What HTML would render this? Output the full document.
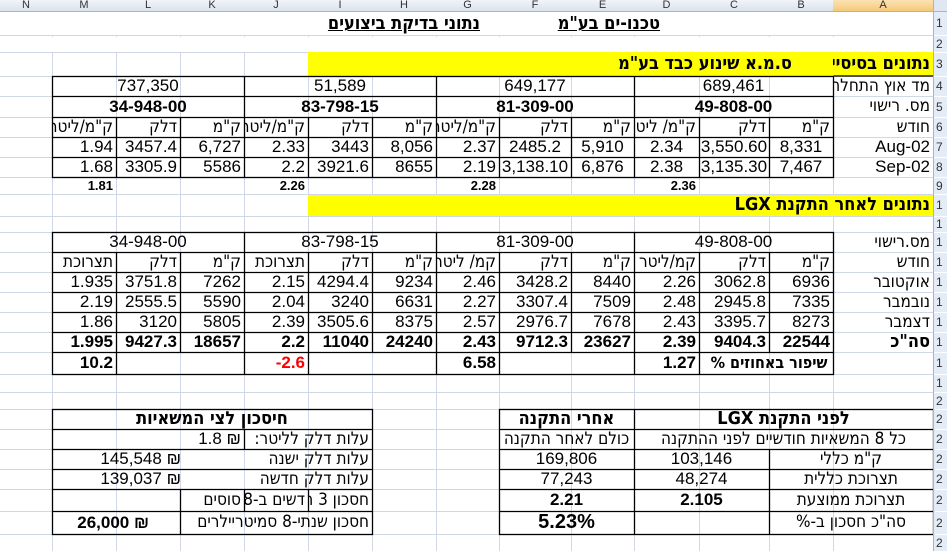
<!DOCTYPE html>
<html><head><meta charset="utf-8">
<style>
body{margin:0;width:947px;height:551px;overflow:hidden;background:#fff;position:relative;font-family:"Liberation Sans","DejaVu Sans Condensed","DejaVu Sans",sans-serif;color:#000}
.c{position:absolute;white-space:nowrap;overflow:hidden;font-size:17px;box-sizing:border-box}
.c[style*="rtl"]{font-size:17px;font-family:"DejaVu Sans Condensed","DejaVu Sans",sans-serif}
.c.b[style*="rtl"]{font-size:18px}
.r{text-align:right;padding-right:3px}
.m{text-align:center}
.b{font-weight:bold}
.s{font-size:13px;font-weight:bold}
.h{position:absolute;top:0;height:11px;font-size:11px;line-height:11px;text-align:center;color:#333;background:linear-gradient(#f1f4f9,#dbe3ee)}
.rn{position:absolute;left:934px;width:13px;font-size:12px;color:#333;background:#e4ecf7;overflow:hidden;padding-left:2px;box-sizing:border-box}
</style></head><body>
<svg width="947" height="551" style="position:absolute;left:0;top:0">
<g stroke="#d0d7e5" stroke-width="1">
<line x1="52.5" y1="11" x2="52.5" y2="551"/><line x1="116.5" y1="11" x2="116.5" y2="551"/><line x1="180.5" y1="11" x2="180.5" y2="551"/><line x1="244.5" y1="11" x2="244.5" y2="551"/><line x1="308.5" y1="11" x2="308.5" y2="551"/><line x1="372.5" y1="11" x2="372.5" y2="551"/><line x1="436.5" y1="11" x2="436.5" y2="551"/><line x1="499.5" y1="11" x2="499.5" y2="551"/><line x1="571.5" y1="11" x2="571.5" y2="551"/><line x1="634.5" y1="11" x2="634.5" y2="551"/><line x1="699.5" y1="11" x2="699.5" y2="551"/><line x1="769.5" y1="11" x2="769.5" y2="551"/><line x1="833.5" y1="11" x2="833.5" y2="551"/>
<line x1="0" y1="35.5" x2="933" y2="35.5"/><line x1="0" y1="52.5" x2="933" y2="52.5"/><line x1="0" y1="76.5" x2="933" y2="76.5"/><line x1="0" y1="96.5" x2="933" y2="96.5"/><line x1="0" y1="117.5" x2="933" y2="117.5"/><line x1="0" y1="137.5" x2="933" y2="137.5"/><line x1="0" y1="157.5" x2="933" y2="157.5"/><line x1="0" y1="177.5" x2="933" y2="177.5"/><line x1="0" y1="194.5" x2="933" y2="194.5"/><line x1="0" y1="216.5" x2="933" y2="216.5"/><line x1="0" y1="232.5" x2="933" y2="232.5"/><line x1="0" y1="252.5" x2="933" y2="252.5"/><line x1="0" y1="272.5" x2="933" y2="272.5"/><line x1="0" y1="292.5" x2="933" y2="292.5"/><line x1="0" y1="312.5" x2="933" y2="312.5"/><line x1="0" y1="332.5" x2="933" y2="332.5"/><line x1="0" y1="352.5" x2="933" y2="352.5"/><line x1="0" y1="374.5" x2="933" y2="374.5"/><line x1="0" y1="392.5" x2="933" y2="392.5"/><line x1="0" y1="409.5" x2="933" y2="409.5"/><line x1="0" y1="429.5" x2="933" y2="429.5"/><line x1="0" y1="449.5" x2="933" y2="449.5"/><line x1="0" y1="469.5" x2="933" y2="469.5"/><line x1="0" y1="489.5" x2="933" y2="489.5"/><line x1="0" y1="511.5" x2="933" y2="511.5"/><line x1="0" y1="534.5" x2="933" y2="534.5"/>
</g>
<rect x="308" y="52" width="625" height="24" fill="#ffff00"/>
<rect x="308" y="195" width="625" height="21" fill="#ffff00"/>
<rect x="0" y="37" width="933" height="15" fill="#fff"/>
<rect x="0" y="12" width="933" height="23" fill="#fff"/>
<g stroke="#000" stroke-width="1.3" fill="none">
<rect x="52.5" y="76.5" width="781" height="101"/>
<line x1="52" y1="96.5" x2="833" y2="96.5"/><line x1="52" y1="117.5" x2="833" y2="117.5"/><line x1="52" y1="137.5" x2="833" y2="137.5"/><line x1="52" y1="157.5" x2="833" y2="157.5"/>
<line x1="833.5" y1="76" x2="933" y2="76"/>
<line x1="244.5" y1="76" x2="244.5" y2="177"/><line x1="436.5" y1="76" x2="436.5" y2="177"/><line x1="634.5" y1="76" x2="634.5" y2="177"/>
<line x1="116.5" y1="117" x2="116.5" y2="177"/><line x1="180.5" y1="117" x2="180.5" y2="177"/><line x1="308.5" y1="117" x2="308.5" y2="177"/><line x1="372.5" y1="117" x2="372.5" y2="177"/><line x1="499.5" y1="117" x2="499.5" y2="177"/><line x1="571.5" y1="117" x2="571.5" y2="177"/><line x1="699.5" y1="117" x2="699.5" y2="177"/><line x1="769.5" y1="117" x2="769.5" y2="177"/>
<rect x="52.5" y="232.5" width="781" height="142"/>
<line x1="52" y1="252.5" x2="833" y2="252.5"/><line x1="52" y1="272.5" x2="833" y2="272.5"/><line x1="52" y1="292.5" x2="833" y2="292.5"/><line x1="52" y1="312.5" x2="833" y2="312.5"/><line x1="52" y1="332.5" x2="833" y2="332.5"/><line x1="52" y1="352.5" x2="833" y2="352.5"/>
<line x1="244.5" y1="232" x2="244.5" y2="374"/><line x1="436.5" y1="232" x2="436.5" y2="374"/><line x1="634.5" y1="232" x2="634.5" y2="374"/>
<line x1="116.5" y1="252" x2="116.5" y2="374"/><line x1="180.5" y1="252" x2="180.5" y2="352"/><line x1="308.5" y1="252" x2="308.5" y2="374"/><line x1="372.5" y1="252" x2="372.5" y2="352"/><line x1="499.5" y1="252" x2="499.5" y2="374"/><line x1="571.5" y1="252" x2="571.5" y2="352"/><line x1="699.5" y1="252" x2="699.5" y2="374"/><line x1="769.5" y1="252" x2="769.5" y2="352"/>
<rect x="52.5" y="409.5" width="320" height="125"/>
<line x1="52" y1="429.5" x2="372" y2="429.5"/><line x1="52" y1="449.5" x2="372" y2="449.5"/><line x1="52" y1="469.5" x2="372" y2="469.5"/><line x1="52" y1="489.5" x2="372" y2="489.5"/><line x1="52" y1="511.5" x2="372" y2="511.5"/>
<line x1="244.5" y1="429" x2="244.5" y2="449"/>
<line x1="180.5" y1="489" x2="180.5" y2="534"/><line x1="244.5" y1="489" x2="244.5" y2="511"/><line x1="308.5" y1="489" x2="308.5" y2="511"/>
<rect x="499.5" y="409.5" width="434" height="125"/>
<line x1="499" y1="429.5" x2="933" y2="429.5"/><line x1="499" y1="449.5" x2="933" y2="449.5"/><line x1="499" y1="469.5" x2="933" y2="469.5"/><line x1="499" y1="489.5" x2="933" y2="489.5"/><line x1="499" y1="511.5" x2="933" y2="511.5"/>
<line x1="634.5" y1="409" x2="634.5" y2="534"/><line x1="769.5" y1="449" x2="769.5" y2="534"/>
</g>
<line x1="0" y1="11.5" x2="947" y2="11.5" stroke="#9eb6ce"/>
<line x1="933.5" y1="0" x2="933.5" y2="551" stroke="#9eb6ce"/>
</svg>

<div class="h" style="left:0;width:52px">N</div>
<div class="h" style="left:52px;width:64px">M</div>
<div class="h" style="left:116px;width:64px">L</div>
<div class="h" style="left:180px;width:64px">K</div>
<div class="h" style="left:244px;width:64px">J</div>
<div class="h" style="left:308px;width:64px">I</div>
<div class="h" style="left:372px;width:64px">H</div>
<div class="h" style="left:436px;width:63px">G</div>
<div class="h" style="left:499px;width:72px">F</div>
<div class="h" style="left:571px;width:63px">E</div>
<div class="h" style="left:634px;width:65px">D</div>
<div class="h" style="left:699px;width:70px">C</div>
<div class="h" style="left:769px;width:64px">B</div>
<div class="h" style="left:833px;width:100px;background:linear-gradient(#fbe2b4,#f6c97a)">A</div>
<div class="h" style="left:934px;width:13px;background:#dfe7f2"></div>

<div class="rn" style="top:12px;height:23px;line-height:23px">1</div>
<div class="rn" style="top:36px;height:16px;line-height:16px">2</div>
<div class="rn" style="top:53px;height:23px;line-height:23px">3</div>
<div class="rn" style="top:77px;height:19px;line-height:19px">4</div>
<div class="rn" style="top:97px;height:20px;line-height:20px">5</div>
<div class="rn" style="top:118px;height:19px;line-height:19px">6</div>
<div class="rn" style="top:138px;height:19px;line-height:19px">7</div>
<div class="rn" style="top:158px;height:19px;line-height:19px">8</div>
<div class="rn" style="top:178px;height:16px;line-height:16px">9</div>
<div class="rn" style="top:195px;height:21px;line-height:21px">1</div>
<div class="rn" style="top:217px;height:15px;line-height:15px">1</div>
<div class="rn" style="top:233px;height:19px;line-height:19px">1</div>
<div class="rn" style="top:253px;height:19px;line-height:19px">1</div>
<div class="rn" style="top:273px;height:19px;line-height:19px">1</div>
<div class="rn" style="top:293px;height:19px;line-height:19px">1</div>
<div class="rn" style="top:313px;height:19px;line-height:19px">1</div>
<div class="rn" style="top:333px;height:19px;line-height:19px">1</div>
<div class="rn" style="top:353px;height:21px;line-height:21px">1</div>
<div class="rn" style="top:375px;height:17px;line-height:17px">1</div>
<div class="rn" style="top:393px;height:16px;line-height:16px">2</div>
<div class="rn" style="top:410px;height:19px;line-height:19px">2</div>
<div class="rn" style="top:430px;height:19px;line-height:19px">2</div>
<div class="rn" style="top:450px;height:19px;line-height:19px">2</div>
<div class="rn" style="top:470px;height:19px;line-height:19px">2</div>
<div class="rn" style="top:490px;height:21px;line-height:21px">2</div>
<div class="rn" style="top:512px;height:22px;line-height:22px">2</div>
<div class="rn" style="top:535px;height:16px;line-height:16px">2</div>

<div class="c b" style="left:520px;width:140px;top:12px;height:24px;line-height:24px;text-align:right;direction:rtl;text-decoration:underline">טכנו-ים בע"מ</div>
<div class="c b" style="left:310px;width:170px;top:12px;height:24px;line-height:24px;text-align:right;direction:rtl;text-decoration:underline">נתוני בדיקת ביצועים</div>

<div class="c b r" style="left:833px;width:100px;top:52px;height:24px;line-height:24px;direction:rtl">נתונים בסיסיים:</div>
<div class="c b" style="left:600px;width:210px;top:52px;height:24px;line-height:24px;direction:rtl;text-align:center">ס.מ.א שינוע כבד בע"מ</div>

<div class="c r" style="left:833px;width:100px;top:76px;height:20px;line-height:20px;direction:rtl">מד אוץ התחלתי</div>
<div class="c m" style="left:52px;width:192px;top:76px;height:20px;line-height:20px">737,350</div>
<div class="c m" style="left:244px;width:192px;top:76px;height:20px;line-height:20px">51,589</div>
<div class="c m" style="left:436px;width:198px;top:76px;height:20px;line-height:20px">649,177</div>
<div class="c m" style="left:634px;width:199px;top:76px;height:20px;line-height:20px">689,461</div>
<div class="c r" style="left:833px;width:100px;top:96px;height:21px;line-height:21px;direction:rtl">מס. רישוי</div>
<div class="c m b" style="left:52px;width:192px;top:96px;height:21px;line-height:21px">34-948-00</div>
<div class="c m b" style="left:244px;width:192px;top:96px;height:21px;line-height:21px">83-798-15</div>
<div class="c m b" style="left:436px;width:198px;top:96px;height:21px;line-height:21px">81-309-00</div>
<div class="c m b" style="left:634px;width:199px;top:96px;height:21px;line-height:21px">49-808-00</div>

<div class="c r" style="left:833px;width:100px;top:117px;height:20px;line-height:20px;direction:rtl">חודש</div>
<div class="c r" style="left:52px;width:64px;top:117px;height:20px;line-height:20px;direction:rtl">ק"מ/ליטר</div>
<div class="c r" style="left:116px;width:64px;top:117px;height:20px;line-height:20px;direction:rtl">דלק</div>
<div class="c r" style="left:180px;width:64px;top:117px;height:20px;line-height:20px;direction:rtl">ק"מ</div>
<div class="c r" style="left:244px;width:64px;top:117px;height:20px;line-height:20px;direction:rtl">ק"מ/ליטר</div>
<div class="c r" style="left:308px;width:64px;top:117px;height:20px;line-height:20px;direction:rtl">דלק</div>
<div class="c r" style="left:372px;width:64px;top:117px;height:20px;line-height:20px;direction:rtl">ק"מ</div>
<div class="c r" style="left:436px;width:63px;top:117px;height:20px;line-height:20px;direction:rtl">ק"מ/ליטר</div>
<div class="c r" style="left:499px;width:72px;top:117px;height:20px;line-height:20px;direction:rtl">דלק</div>
<div class="c r" style="left:571px;width:63px;top:117px;height:20px;line-height:20px;direction:rtl">ק"מ</div>
<div class="c r" style="left:634px;width:65px;top:117px;height:20px;line-height:20px;direction:rtl">ק"מ/ ליטר</div>
<div class="c r" style="left:699px;width:70px;top:117px;height:20px;line-height:20px;direction:rtl">דלק</div>
<div class="c r" style="left:769px;width:64px;top:117px;height:20px;line-height:20px;direction:rtl">ק"מ</div>

<div class="c r" style="left:833px;width:100px;top:137px;height:20px;line-height:20px">Aug-02</div>
<div class="c r" style="left:52px;width:64px;top:137px;height:20px;line-height:20px">1.94</div>
<div class="c r" style="left:116px;width:64px;top:137px;height:20px;line-height:20px">3457.4</div>
<div class="c r" style="left:180px;width:64px;top:137px;height:20px;line-height:20px">6,727</div>
<div class="c r" style="left:244px;width:64px;top:137px;height:20px;line-height:20px">2.33</div>
<div class="c r" style="left:308px;width:64px;top:137px;height:20px;line-height:20px">3443</div>
<div class="c r" style="left:372px;width:64px;top:137px;height:20px;line-height:20px">8,056</div>
<div class="c r" style="left:436px;width:63px;top:137px;height:20px;line-height:20px">2.37</div>
<div class="c m" style="left:499px;width:72px;top:137px;height:20px;line-height:20px">2485.2</div>
<div class="c m" style="left:571px;width:63px;top:137px;height:20px;line-height:20px">5,910</div>
<div class="c m" style="left:634px;width:65px;top:137px;height:20px;line-height:20px">2.34</div>
<div class="c m" style="left:699px;width:70px;top:137px;height:20px;line-height:20px">3,550.60</div>
<div class="c m" style="left:769px;width:64px;top:137px;height:20px;line-height:20px">8,331</div>

<div class="c r" style="left:833px;width:100px;top:157px;height:20px;line-height:20px">Sep-02</div>
<div class="c r" style="left:52px;width:64px;top:157px;height:20px;line-height:20px">1.68</div>
<div class="c r" style="left:116px;width:64px;top:157px;height:20px;line-height:20px">3305.9</div>
<div class="c r" style="left:180px;width:64px;top:157px;height:20px;line-height:20px">5586</div>
<div class="c r" style="left:244px;width:64px;top:157px;height:20px;line-height:20px">2.2</div>
<div class="c r" style="left:308px;width:64px;top:157px;height:20px;line-height:20px">3921.6</div>
<div class="c r" style="left:372px;width:64px;top:157px;height:20px;line-height:20px">8655</div>
<div class="c r" style="left:436px;width:63px;top:157px;height:20px;line-height:20px">2.19</div>
<div class="c m" style="left:499px;width:72px;top:157px;height:20px;line-height:20px">3,138.10</div>
<div class="c m" style="left:571px;width:63px;top:157px;height:20px;line-height:20px">6,876</div>
<div class="c m" style="left:634px;width:65px;top:157px;height:20px;line-height:20px">2.38</div>
<div class="c m" style="left:699px;width:70px;top:157px;height:20px;line-height:20px">3,135.30</div>
<div class="c m" style="left:769px;width:64px;top:157px;height:20px;line-height:20px">7,467</div>

<div class="c r s" style="left:52px;width:64px;top:177px;height:17px;line-height:17px">1.81</div>
<div class="c r s" style="left:244px;width:64px;top:177px;height:17px;line-height:17px">2.26</div>
<div class="c r s" style="left:436px;width:63px;top:177px;height:17px;line-height:17px">2.28</div>
<div class="c r s" style="left:634px;width:65px;top:177px;height:17px;line-height:17px">2.36</div>

<div class="c b r" style="left:600px;width:333px;top:194px;height:22px;line-height:22px;direction:rtl">נתונים לאחר התקנת LGX</div>

<div class="c r" style="left:833px;width:100px;top:232px;height:20px;line-height:20px;direction:rtl">מס.רישוי</div>
<div class="c m" style="left:52px;width:192px;top:232px;height:20px;line-height:20px">34-948-00</div>
<div class="c m" style="left:244px;width:192px;top:232px;height:20px;line-height:20px">83-798-15</div>
<div class="c m" style="left:436px;width:198px;top:232px;height:20px;line-height:20px">81-309-00</div>
<div class="c m" style="left:634px;width:199px;top:232px;height:20px;line-height:20px">49-808-00</div>

<div class="c r" style="left:833px;width:100px;top:252px;height:20px;line-height:20px;direction:rtl">חודש</div>
<div class="c r" style="left:52px;width:64px;top:252px;height:20px;line-height:20px;direction:rtl">תצרוכת</div>
<div class="c r" style="left:116px;width:64px;top:252px;height:20px;line-height:20px;direction:rtl">דלק</div>
<div class="c r" style="left:180px;width:64px;top:252px;height:20px;line-height:20px;direction:rtl">ק"מ</div>
<div class="c r" style="left:244px;width:64px;top:252px;height:20px;line-height:20px;direction:rtl">תצרוכת</div>
<div class="c r" style="left:308px;width:64px;top:252px;height:20px;line-height:20px;direction:rtl">דלק</div>
<div class="c r" style="left:372px;width:64px;top:252px;height:20px;line-height:20px;direction:rtl">ק"מ</div>
<div class="c r" style="left:436px;width:63px;top:252px;height:20px;line-height:20px;direction:rtl">קמ/ ליטר</div>
<div class="c r" style="left:499px;width:72px;top:252px;height:20px;line-height:20px;direction:rtl">דלק</div>
<div class="c r" style="left:571px;width:63px;top:252px;height:20px;line-height:20px;direction:rtl">ק"מ</div>
<div class="c r" style="left:634px;width:65px;top:252px;height:20px;line-height:20px;direction:rtl">קמ/ליטר</div>
<div class="c r" style="left:699px;width:70px;top:252px;height:20px;line-height:20px;direction:rtl">דלק</div>
<div class="c r" style="left:769px;width:64px;top:252px;height:20px;line-height:20px;direction:rtl">ק"מ</div>

<div class="c r" style="left:833px;width:100px;top:272px;height:20px;line-height:20px;direction:rtl">אוקטובר</div>
<div class="c r" style="left:52px;width:64px;top:272px;height:20px;line-height:20px">1.935</div>
<div class="c r" style="left:116px;width:64px;top:272px;height:20px;line-height:20px">3751.8</div>
<div class="c r" style="left:180px;width:64px;top:272px;height:20px;line-height:20px">7262</div>
<div class="c r" style="left:244px;width:64px;top:272px;height:20px;line-height:20px">2.15</div>
<div class="c r" style="left:308px;width:64px;top:272px;height:20px;line-height:20px">4294.4</div>
<div class="c r" style="left:372px;width:64px;top:272px;height:20px;line-height:20px">9234</div>
<div class="c r" style="left:436px;width:63px;top:272px;height:20px;line-height:20px">2.46</div>
<div class="c r" style="left:499px;width:72px;top:272px;height:20px;line-height:20px">3428.2</div>
<div class="c r" style="left:571px;width:63px;top:272px;height:20px;line-height:20px">8440</div>
<div class="c r" style="left:634px;width:65px;top:272px;height:20px;line-height:20px">2.26</div>
<div class="c r" style="left:699px;width:70px;top:272px;height:20px;line-height:20px">3062.8</div>
<div class="c r" style="left:769px;width:64px;top:272px;height:20px;line-height:20px">6936</div>

<div class="c r" style="left:833px;width:100px;top:292px;height:20px;line-height:20px;direction:rtl">נובמבר</div>
<div class="c r" style="left:52px;width:64px;top:292px;height:20px;line-height:20px">2.19</div>
<div class="c r" style="left:116px;width:64px;top:292px;height:20px;line-height:20px">2555.5</div>
<div class="c r" style="left:180px;width:64px;top:292px;height:20px;line-height:20px">5590</div>
<div class="c r" style="left:244px;width:64px;top:292px;height:20px;line-height:20px">2.04</div>
<div class="c r" style="left:308px;width:64px;top:292px;height:20px;line-height:20px">3240</div>
<div class="c r" style="left:372px;width:64px;top:292px;height:20px;line-height:20px">6631</div>
<div class="c r" style="left:436px;width:63px;top:292px;height:20px;line-height:20px">2.27</div>
<div class="c r" style="left:499px;width:72px;top:292px;height:20px;line-height:20px">3307.4</div>
<div class="c r" style="left:571px;width:63px;top:292px;height:20px;line-height:20px">7509</div>
<div class="c r" style="left:634px;width:65px;top:292px;height:20px;line-height:20px">2.48</div>
<div class="c r" style="left:699px;width:70px;top:292px;height:20px;line-height:20px">2945.8</div>
<div class="c r" style="left:769px;width:64px;top:292px;height:20px;line-height:20px">7335</div>

<div class="c r" style="left:833px;width:100px;top:312px;height:20px;line-height:20px;direction:rtl">דצמבר</div>
<div class="c r" style="left:52px;width:64px;top:312px;height:20px;line-height:20px">1.86</div>
<div class="c r" style="left:116px;width:64px;top:312px;height:20px;line-height:20px">3120</div>
<div class="c r" style="left:180px;width:64px;top:312px;height:20px;line-height:20px">5805</div>
<div class="c r" style="left:244px;width:64px;top:312px;height:20px;line-height:20px">2.39</div>
<div class="c r" style="left:308px;width:64px;top:312px;height:20px;line-height:20px">3505.6</div>
<div class="c r" style="left:372px;width:64px;top:312px;height:20px;line-height:20px">8375</div>
<div class="c r" style="left:436px;width:63px;top:312px;height:20px;line-height:20px">2.57</div>
<div class="c r" style="left:499px;width:72px;top:312px;height:20px;line-height:20px">2976.7</div>
<div class="c r" style="left:571px;width:63px;top:312px;height:20px;line-height:20px">7678</div>
<div class="c r" style="left:634px;width:65px;top:312px;height:20px;line-height:20px">2.43</div>
<div class="c r" style="left:699px;width:70px;top:312px;height:20px;line-height:20px">3395.7</div>
<div class="c r" style="left:769px;width:64px;top:312px;height:20px;line-height:20px">8273</div>

<div class="c r b" style="left:833px;width:100px;top:332px;height:20px;line-height:20px;direction:rtl">סה"כ</div>
<div class="c r b" style="left:52px;width:64px;top:332px;height:20px;line-height:20px">1.995</div>
<div class="c r b" style="left:116px;width:64px;top:332px;height:20px;line-height:20px">9427.3</div>
<div class="c r b" style="left:180px;width:64px;top:332px;height:20px;line-height:20px">18657</div>
<div class="c r b" style="left:244px;width:64px;top:332px;height:20px;line-height:20px">2.2</div>
<div class="c r b" style="left:308px;width:64px;top:332px;height:20px;line-height:20px">11040</div>
<div class="c r b" style="left:372px;width:64px;top:332px;height:20px;line-height:20px">24240</div>
<div class="c r b" style="left:436px;width:63px;top:332px;height:20px;line-height:20px">2.43</div>
<div class="c r b" style="left:499px;width:72px;top:332px;height:20px;line-height:20px">9712.3</div>
<div class="c r b" style="left:571px;width:63px;top:332px;height:20px;line-height:20px">23627</div>
<div class="c r b" style="left:634px;width:65px;top:332px;height:20px;line-height:20px">2.39</div>
<div class="c r b" style="left:699px;width:70px;top:332px;height:20px;line-height:20px">9404.3</div>
<div class="c r b" style="left:769px;width:64px;top:332px;height:20px;line-height:20px">22544</div>

<div class="c r b" style="left:52px;width:64px;top:352px;height:22px;line-height:22px">10.2</div>
<div class="c r b" style="left:244px;width:64px;top:352px;height:22px;line-height:22px;color:#f00">-2.6</div>
<div class="c r b" style="left:436px;width:63px;top:352px;height:22px;line-height:22px">6.58</div>
<div class="c r b" style="left:634px;width:65px;top:352px;height:22px;line-height:22px">1.27</div>
<div class="c b m" style="left:705px;width:128px;top:352px;height:22px;line-height:22px;direction:rtl;font-size:16px">שיפור באחוזים %</div>

<div class="c b m" style="left:52px;width:320px;top:409px;height:20px;line-height:20px;direction:rtl">חיסכון לצי המשאיות</div>
<div class="c r" style="left:244px;width:128px;top:429px;height:20px;line-height:20px;direction:rtl">עלות דלק לליטר:</div>
<div class="c r" style="left:180px;width:64px;top:429px;height:20px;line-height:20px">1.8 ₪</div>
<div class="c r" style="left:244px;width:128px;top:449px;height:20px;line-height:20px;direction:rtl">עלות דלק ישנה</div>
<div class="c r" style="left:52px;width:132px;top:449px;height:20px;line-height:20px">145,548 ₪</div>
<div class="c r" style="left:244px;width:128px;top:469px;height:20px;line-height:20px;direction:rtl">עלות דלק חדשה</div>
<div class="c r" style="left:52px;width:132px;top:469px;height:20px;line-height:20px">139,037 ₪</div>
<div class="c r" style="left:308px;width:64px;top:489px;height:22px;line-height:22px;direction:rtl">חסכון 3 ח</div>
<div class="c r" style="left:244px;width:64px;top:489px;height:22px;line-height:22px;direction:rtl">דשים ב-8</div>
<div class="c r" style="left:180px;width:64px;top:489px;height:22px;line-height:22px;direction:rtl">סוסים</div>
<div class="c r" style="left:180px;width:192px;top:511px;height:23px;line-height:23px;direction:rtl">חסכון שנתי-8 סמיטריילרים</div>
<div class="c r b" style="left:52px;width:100px;top:511px;height:23px;line-height:23px">26,000 ₪</div>

<div class="c b m" style="left:634px;width:299px;top:409px;height:20px;line-height:20px;direction:rtl">לפני התקנת LGX</div>
<div class="c b m" style="left:499px;width:135px;top:409px;height:20px;line-height:20px;direction:rtl">אחרי התקנה</div>
<div class="c m" style="left:634px;width:299px;top:429px;height:20px;line-height:20px;direction:rtl">כל 8 המשאיות חודשיים לפני ההתקנה</div>
<div class="c m" style="left:499px;width:135px;top:429px;height:20px;line-height:20px;direction:rtl">כולם לאחר התקנה</div>
<div class="c m" style="left:769px;width:164px;top:449px;height:20px;line-height:20px;direction:rtl">ק"מ כללי</div>
<div class="c m" style="left:634px;width:135px;top:449px;height:20px;line-height:20px">103,146</div>
<div class="c m" style="left:499px;width:135px;top:449px;height:20px;line-height:20px">169,806</div>
<div class="c m" style="left:769px;width:164px;top:469px;height:20px;line-height:20px;direction:rtl">תצרוכת כללית</div>
<div class="c m" style="left:634px;width:135px;top:469px;height:20px;line-height:20px">48,274</div>
<div class="c m" style="left:499px;width:135px;top:469px;height:20px;line-height:20px">77,243</div>
<div class="c m" style="left:769px;width:164px;top:489px;height:22px;line-height:22px;direction:rtl">תצרוכת ממוצעת</div>
<div class="c m b" style="left:634px;width:135px;top:489px;height:22px;line-height:22px">2.105</div>
<div class="c m b" style="left:499px;width:135px;top:489px;height:22px;line-height:22px">2.21</div>
<div class="c m" style="left:769px;width:164px;top:511px;height:23px;line-height:23px;direction:rtl">סה"כ חסכון ב-%</div>
<div class="c m b" style="left:499px;width:135px;top:511px;height:23px;line-height:23px;font-size:20px">5.23%</div>
</body></html>
